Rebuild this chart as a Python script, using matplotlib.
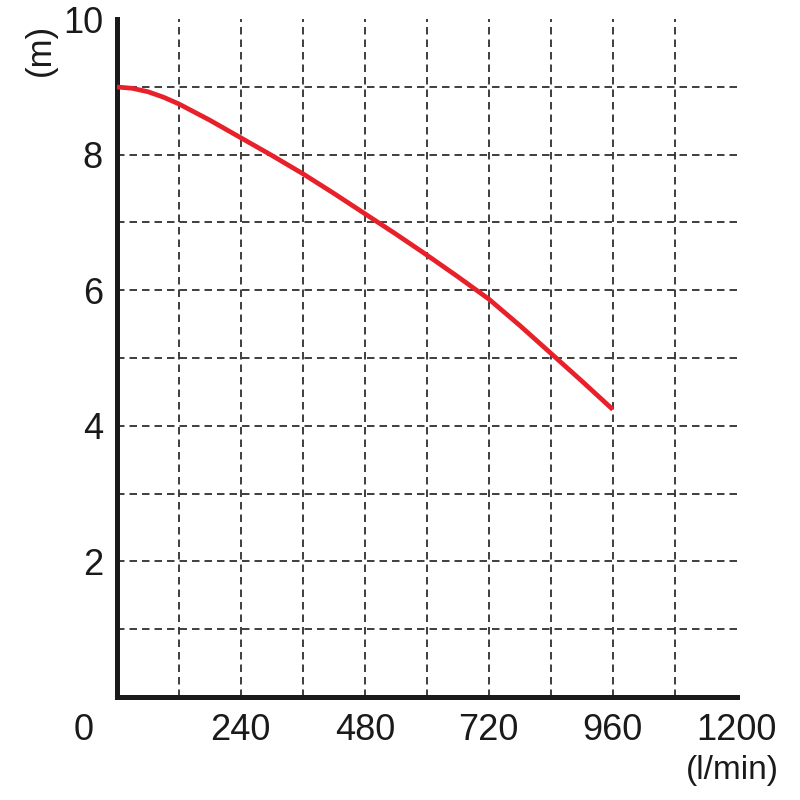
import matplotlib
matplotlib.use("Agg")
import matplotlib.pyplot as plt

flow = [0, 30, 60, 90, 120, 180, 240, 300, 360, 420, 480, 540, 600, 660, 720, 780, 840, 900, 960]
head = [9.0, 8.98, 8.93, 8.85, 8.75, 8.51, 8.25, 7.99, 7.72, 7.43, 7.13, 6.83, 6.52, 6.20, 5.87, 5.48, 5.07, 4.66, 4.24]

x_major = [240, 480, 720, 960, 1200]
x_labels = ["240", "480", "720", "960", "1200"]
y_major = [2, 4, 6, 8, 10]
y_labels = ["2", "4", "6", "8", "10"]
x_grid = [120, 240, 360, 480, 600, 720, 840, 960, 1080]
y_grid = [1, 2, 3, 4, 5, 6, 7, 8, 9]

plt.rcParams['font.family'] = ['Liberation Sans', 'DejaVu Sans']

fig = plt.figure(figsize=(8, 8), dpi=100)
ax = fig.add_axes([0.146, 0.129, 0.775, 0.847])
ax.set_xlim(0, 1200)
ax.set_ylim(0, 10)

ax.xaxis.remove_overlapping_locs = False
ax.yaxis.remove_overlapping_locs = False
ax.set_xticks(x_major)
ax.set_xticklabels(x_labels)
ax.set_yticks(y_major)
ax.set_yticklabels(y_labels)
ax.set_xticks(x_grid, minor=True)
ax.set_yticks(y_grid, minor=True)
ax.tick_params(which='both', length=0)
ax.tick_params(axis='x', labelsize=26, pad=12, colors='#1a1a1a')
ax.tick_params(axis='y', labelsize=26, pad=10, colors='#1a1a1a')
ax.grid(which='minor', color='#1e1e1e', linewidth=1.2, linestyle=(0, (4.5, 3)))
ax.grid(which='major', visible=False)

for s in ['top', 'right']:
    ax.spines[s].set_visible(False)
for s in ['left', 'bottom']:
    ax.spines[s].set_linewidth(3.6)
    ax.spines[s].set_color('#1a1a1a')

ax.plot(flow, head, color='#e8202a', linewidth=3.4, solid_capstyle='butt',
        solid_joinstyle='round', zorder=5)

ax.annotate("0", xy=(0, 0), xytext=(-24, -12), textcoords='offset points',
            ha='center', va='top', fontsize=26, color='#1a1a1a', annotation_clip=False)
fig.text(0.05, 0.937, "(m)", rotation=90, ha='center', va='center', fontsize=25, color='#1a1a1a')
fig.text(0.973, 0.037, "(l/min)", ha='right', va='center', fontsize=24, color='#1a1a1a')

fig.savefig("out.png", dpi=100, facecolor='white')
